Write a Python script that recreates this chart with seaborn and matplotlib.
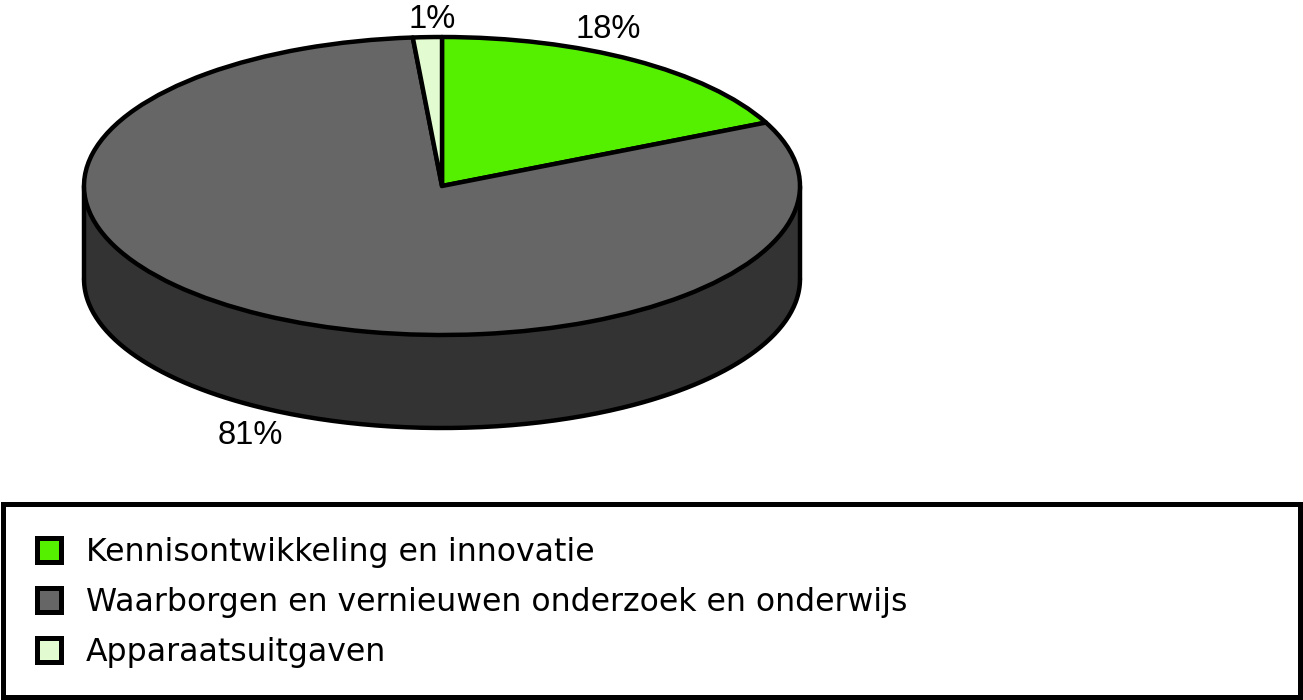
import numpy as np
import matplotlib
matplotlib.use("Agg")
import matplotlib.pyplot as plt
import seaborn as sns

categories = ["Kennisontwikkeling en innovatie",
              "Waarborgen en vernieuwen onderzoek en onderwijs",
              "Apparaatsuitgaven"]
values = [18.0, 80.7, 1.3]
pct_labels = ["18%", "81%", "1%"]
top_colors = ["#55F000", "#666666", "#E2FBD0"]
side_color = "#333333"

sns.set_theme(style="white")
plt.rcParams['font.family'] = ['DejaVu Sans']

W, H = 1303, 700
fig = plt.figure(figsize=(W / 100, H / 100), dpi=100)
ax = fig.add_axes([0, 0, 1, 1])

cx, cy, rx, ry, depth_px = 442, 186, 358, 149, 93
depth = depth_px / ry
lw = 3.2

# side (lower rim)
theta = np.linspace(np.pi, 2 * np.pi, 300)
xs = np.cos(theta)
ax.fill_between(xs, np.sin(theta), np.sin(theta) - depth, color=side_color, lw=0, zorder=1)
ax.plot(xs, np.sin(theta) - depth, color="black", lw=lw, zorder=2, solid_capstyle="round")
ax.plot([-1, -1], [0, -depth], color="black", lw=lw, zorder=2, solid_capstyle="round")
ax.plot([1, 1], [0, -depth], color="black", lw=lw, zorder=2, solid_capstyle="round")

# top face
wedges, _ = ax.pie(values, colors=top_colors, startangle=90, counterclock=False,
                   radius=1, center=(0, 0),
                   wedgeprops=dict(edgecolor="black", linewidth=lw, joinstyle="round"))
for w in wedges:
    w.set_zorder(3)

ax.set_aspect("auto")
ax.set_xlim(-cx / rx, (W - cx) / rx)
ax.set_ylim(-(H - cy) / ry, cy / ry)
ax.axis("off")

# percentage labels
label_pos = [(608, 30), (250, 435), (432, 19)]
for txt, (px, py) in zip(pct_labels, label_pos):
    ax.text((px - cx) / rx, (cy - py) / ry, txt, ha="center", va="center", fontsize=23.5,
            family="Liberation Sans", color="black", zorder=5)

# legend
fig.patches.append(plt.Rectangle((2.5 / W, 3.5 / H), (W - 6) / W, 193 / H, transform=fig.transFigure,
                                 facecolor="white", edgecolor="black", linewidth=3.6))
for name, col, yp in zip(categories, top_colors, [550, 600, 650]):
    fig.patches.append(plt.Rectangle((37 / W, 1 - (yp + 12) / H), 24 / W, 24 / H,
                                     transform=fig.transFigure, facecolor=col,
                                     edgecolor="black", linewidth=3.6))
    fig.text(86 / W, 1 - (yp + 2) / H, name, ha="left", va="center", fontsize=22.7, color="black")

fig.savefig("out.png", dpi=100)
